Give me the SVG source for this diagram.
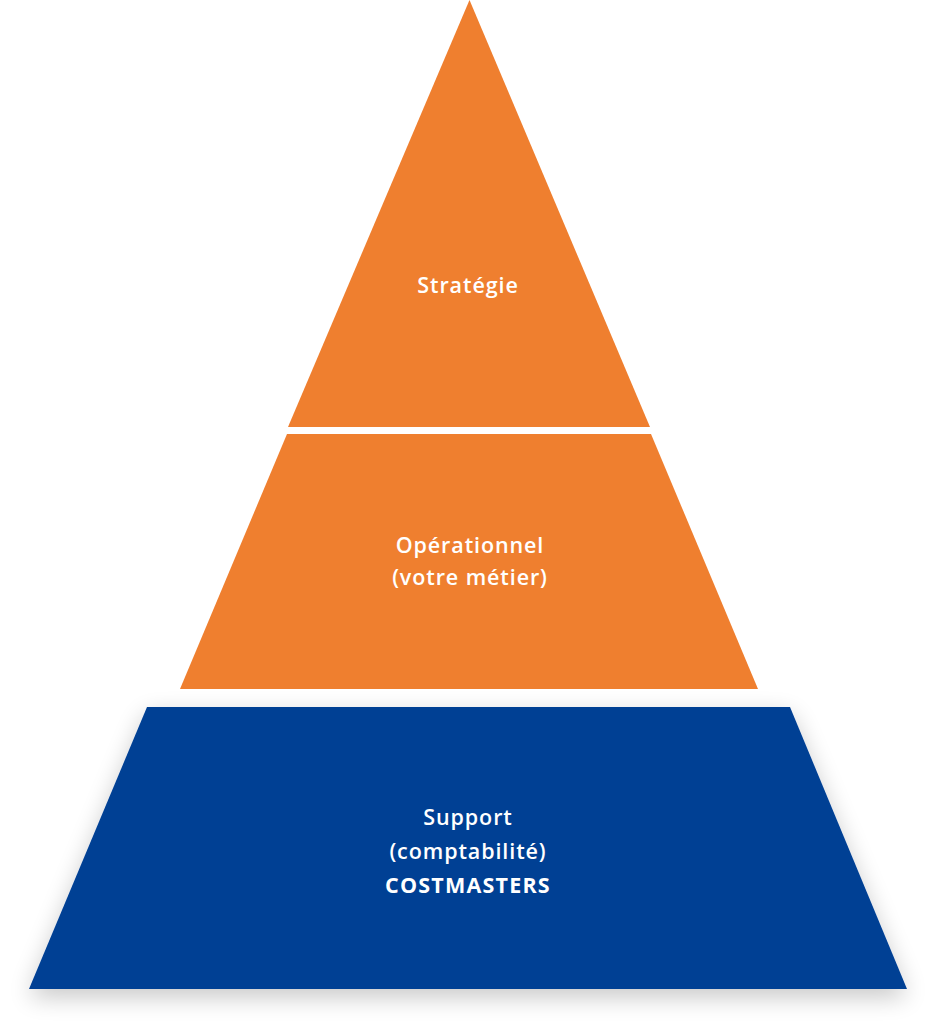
<svg xmlns="http://www.w3.org/2000/svg" width="937" height="1024" viewBox="0 0 937 1024">
  <defs>
    <filter id="shadow" x="-10%" y="-20%" width="120%" height="150%">
      <feGaussianBlur in="SourceAlpha" stdDeviation="12"/>
      <feOffset dx="0" dy="8" result="b"/>
      <feComponentTransfer><feFuncA type="linear" slope="0.22"/></feComponentTransfer>
      <feMerge><feMergeNode/><feMergeNode in="SourceGraphic"/></feMerge>
    </filter>
  </defs>
  <style>
    .orange { fill: #EF7F2F; }
    .blue { fill: #024094; }
    .lbl { font-family: "Open Sans", Lato, "Liberation Sans", sans-serif; font-size: 21.5px; fill: #ffffff; text-anchor: middle; font-weight: 600; letter-spacing: 0.9px; }
    .bold { font-weight: 700; letter-spacing: 1.2px; }
  </style>
  <rect width="937" height="1024" fill="#ffffff"/>
  <g id="strategie">
    <polygon class="orange" points="469.5,0 650,427 288,427"/>
    <text class="lbl" x="468" y="293">Stratégie</text>
  </g>
  <g id="operationnel">
    <polygon class="orange" points="287,434 651,434 758,689 180,689"/>
    <text class="lbl" x="470" y="553">Opérationnel</text>
    <text class="lbl" x="470" y="585">(votre métier)</text>
  </g>
  <g id="support">
    <polygon class="blue" filter="url(#shadow)" points="147,707 790,707 907,989 29,989"/>
    <text class="lbl" x="468" y="825">Support</text>
    <text class="lbl" x="468" y="859">(comptabilité)</text>
    <text class="lbl bold" x="468" y="893">COSTMASTERS</text>
  </g>
  <g id="connectors"/>
</svg>
